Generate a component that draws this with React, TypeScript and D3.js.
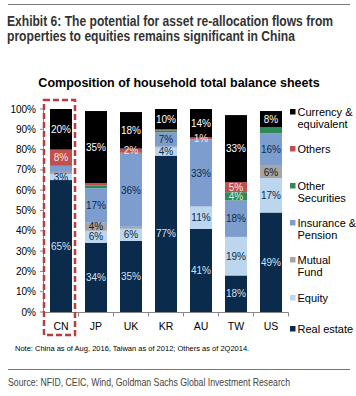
import React from "react";
import * as d3 from "d3";

const categories = ["CN", "JP", "UK", "KR", "AU", "TW", "US"];
const realEstate = [65, 34, 35, 77, 41, 18, 49];
const equity = [3, 6, 6, 4, 11, 19, 17];
const mutualFund = [1, 4, 1, 0.5, 0, 0, 6];
const insurance = [3, 17, 36, 7, 33, 18, 16];
const otherSecurities = [0, 1.4, 0.5, 1, 0, 4, 3];
const others = [8, 1.1, 2, 0.5, 1, 5, 0];
const currency = [20, 35.5, 18, 10, 14, 33, 8];

const realEstateLabels = ["65%", "34%", "35%", "77%", "41%", "18%", "49%"];
const equityLabels = ["3%", "6%", "6%", "4%", "11%", "19%", "17%"];
const mutualFundLabels = ["", "4%", "", "", "", "", "6%"];
const insuranceLabels = ["", "17%", "36%", "7%", "33%", "18%", "16%"];
const otherSecuritiesLabels = ["", "", "", "", "", "4%", ""];
const othersLabels = ["8%", "", "2%", "", "1%", "5%", ""];
const currencyLabels = ["20%", "35%", "18%", "10%", "14%", "33%", "8%"];

const yTicks = [0, 10, 20, 30, 40, 50, 60, 70, 80, 90, 100];

const seriesNames = ["Real estate", "Equity", "Mutual Fund", "Insurance & Pension", "Other Securities", "Others", "Currency & equivalent"];
const seriesValues = [realEstate, equity, mutualFund, insurance, otherSecurities, others, currency];
const seriesLabels = [realEstateLabels, equityLabels, mutualFundLabels, insuranceLabels, otherSecuritiesLabels, othersLabels, currencyLabels];
const seriesColors = ["#0b2b4c", "#bcd6ee", "#a5a5a5", "#7d9dcf", "#2f8a5a", "#c0504d", "#000000"];
const labelColors = ["#cfe0f3", "#0b2b4c", "#1a1a1a", "#0b2b4c", "#dde8dd", "#fbe3e3", "#ffffff"];

const legendLines: string[][] = [
  ["Currency &", "equivalent"],
  ["Others"],
  ["Other", "Securities"],
  ["Insurance &", "Pension"],
  ["Mutual", "Fund"],
  ["Equity"],
  ["Real estate"],
];
const legendSeries = [6, 5, 4, 3, 2, 1, 0];
const legendY = [112, 149, 186, 223, 260, 298, 329];

export default function App() {
  const W = 356, H = 396;
  const x = d3.scaleBand<string>().domain(categories).range([43.5, 288.5]).paddingInner(13 / 35).paddingOuter(13 / 70);
  const y = d3.scaleLinear().domain([0, 100]).range([312, 109]);

  const table = categories.map((c, i) => {
    const row: any = { cat: c };
    seriesNames.forEach((s, j) => (row[s] = seriesValues[j][i]));
    return row;
  });
  const stacked = d3.stack<any>().keys(seriesNames)(table);

  const sans = "'Liberation Sans', Arial, sans-serif";

  return (
    <svg width={W} height={H} style={{ position: "absolute", left: 0, top: 0, background: "#fff" }}>
      <rect width={W} height={H} fill="#fff" />
      <line x1={8} x2={350} y1={4.5} y2={4.5} stroke="#777" strokeWidth={1} />
      <text x={7} y={26} fontFamily={sans} fontWeight="bold" fontSize={15} fill="#333" textLength={326} lengthAdjust="spacingAndGlyphs">
        Exhibit 6: The potential for asset re-allocation flows from
      </text>
      <text x={7} y={41} fontFamily={sans} fontWeight="bold" fontSize={15} fill="#333" textLength={288} lengthAdjust="spacingAndGlyphs">
        properties to equities remains significant in China
      </text>
      <text x={179} y={87} textAnchor="middle" fontFamily={sans} fontWeight="bold" fontSize={12.5} fill="#000">
        Composition of household total balance sheets
      </text>

      {stacked.map((layer, j) => (
        <g key={layer.key}>
          {layer.map((d, i) => {
            const h = y(d[0]) - y(d[1]);
            if (h <= 0) return null;
            return (
              <rect key={i} x={x(categories[i])} y={y(d[1])} width={x.bandwidth()} height={h} fill={seriesColors[j]} />
            );
          })}
        </g>
      ))}
      {stacked.map((layer, j) => (
        <g key={"l" + layer.key}>
          {layer.map((d, i) => {
            const lab = seriesLabels[j][i];
            if (!lab) return null;
            const cy = (y(d[0]) + y(d[1])) / 2;
            return (
              <text key={i} x={(x(categories[i]) as number) + x.bandwidth() / 2} y={cy} dy="0.36em" textAnchor="middle"
                fontFamily={sans} fontSize={10} fill={labelColors[j]}>
                {lab}
              </text>
            );
          })}
        </g>
      ))}

      {/* y axis */}
      <line x1={43.5} x2={43.5} y1={y(100)} y2={y(0)} stroke="#888" />
      {yTicks.map((t) => (
        <g key={t}>
          <line x1={40} x2={43.5} y1={y(t)} y2={y(t)} stroke="#888" />
          <text x={36} y={y(t)} dy="0.35em" textAnchor="end" fontFamily={sans} fontSize={10} fill="#000">
            {t}%
          </text>
        </g>
      ))}
      {/* x axis */}
      <line x1={43.5} x2={288.5} y1={312.5} y2={312.5} stroke="#888" />
      {categories.map((c, i) => (
        <g key={c}>
          <line x1={43.5 + x.step() * (i + 1)} x2={43.5 + x.step() * (i + 1)} y1={312.5} y2={316.5} stroke="#888" />
          <text x={(x(c) as number) + x.bandwidth() / 2} y={330} textAnchor="middle" fontFamily={sans} fontSize={10.5} fill="#000">
            {c}
          </text>
        </g>
      ))}

      <rect x={44} y={100} width={31} height={235} fill="none" stroke="#b83c40" strokeWidth={2.5} strokeDasharray="6,3" />

      {legendLines.map((lines, k) => {
        const s = legendSeries[k];
        const cy = legendY[k];
        return (
          <g key={k}>
            <rect x={290} y={cy - 3} width={5.5} height={5.5} fill={seriesColors[s]} />
            {lines.map((ln, m) => (
              <text key={m} x={297.5} y={cy + m * 12} dy="0.35em" fontFamily={sans} fontSize={11} fill="#000">
                {ln}
              </text>
            ))}
          </g>
        );
      })}

      <text x={15} y={348} dy="0.35em" fontFamily={sans} fontSize={7.5} fill="#000">
        Note: China as of Aug, 2016, Taiwan as of 2012; Others as of 2Q2014.
      </text>
      <line x1={8} x2={350} y1={369.5} y2={369.5} stroke="#777" strokeWidth={1} />
      <text x={8} y={382} dy="0.35em" fontFamily={sans} fontSize={11.5} fill="#444" textLength={282} lengthAdjust="spacingAndGlyphs">
        Source: NFID, CEIC, Wind, Goldman Sachs Global Investment Research
      </text>
    </svg>
  );
}
